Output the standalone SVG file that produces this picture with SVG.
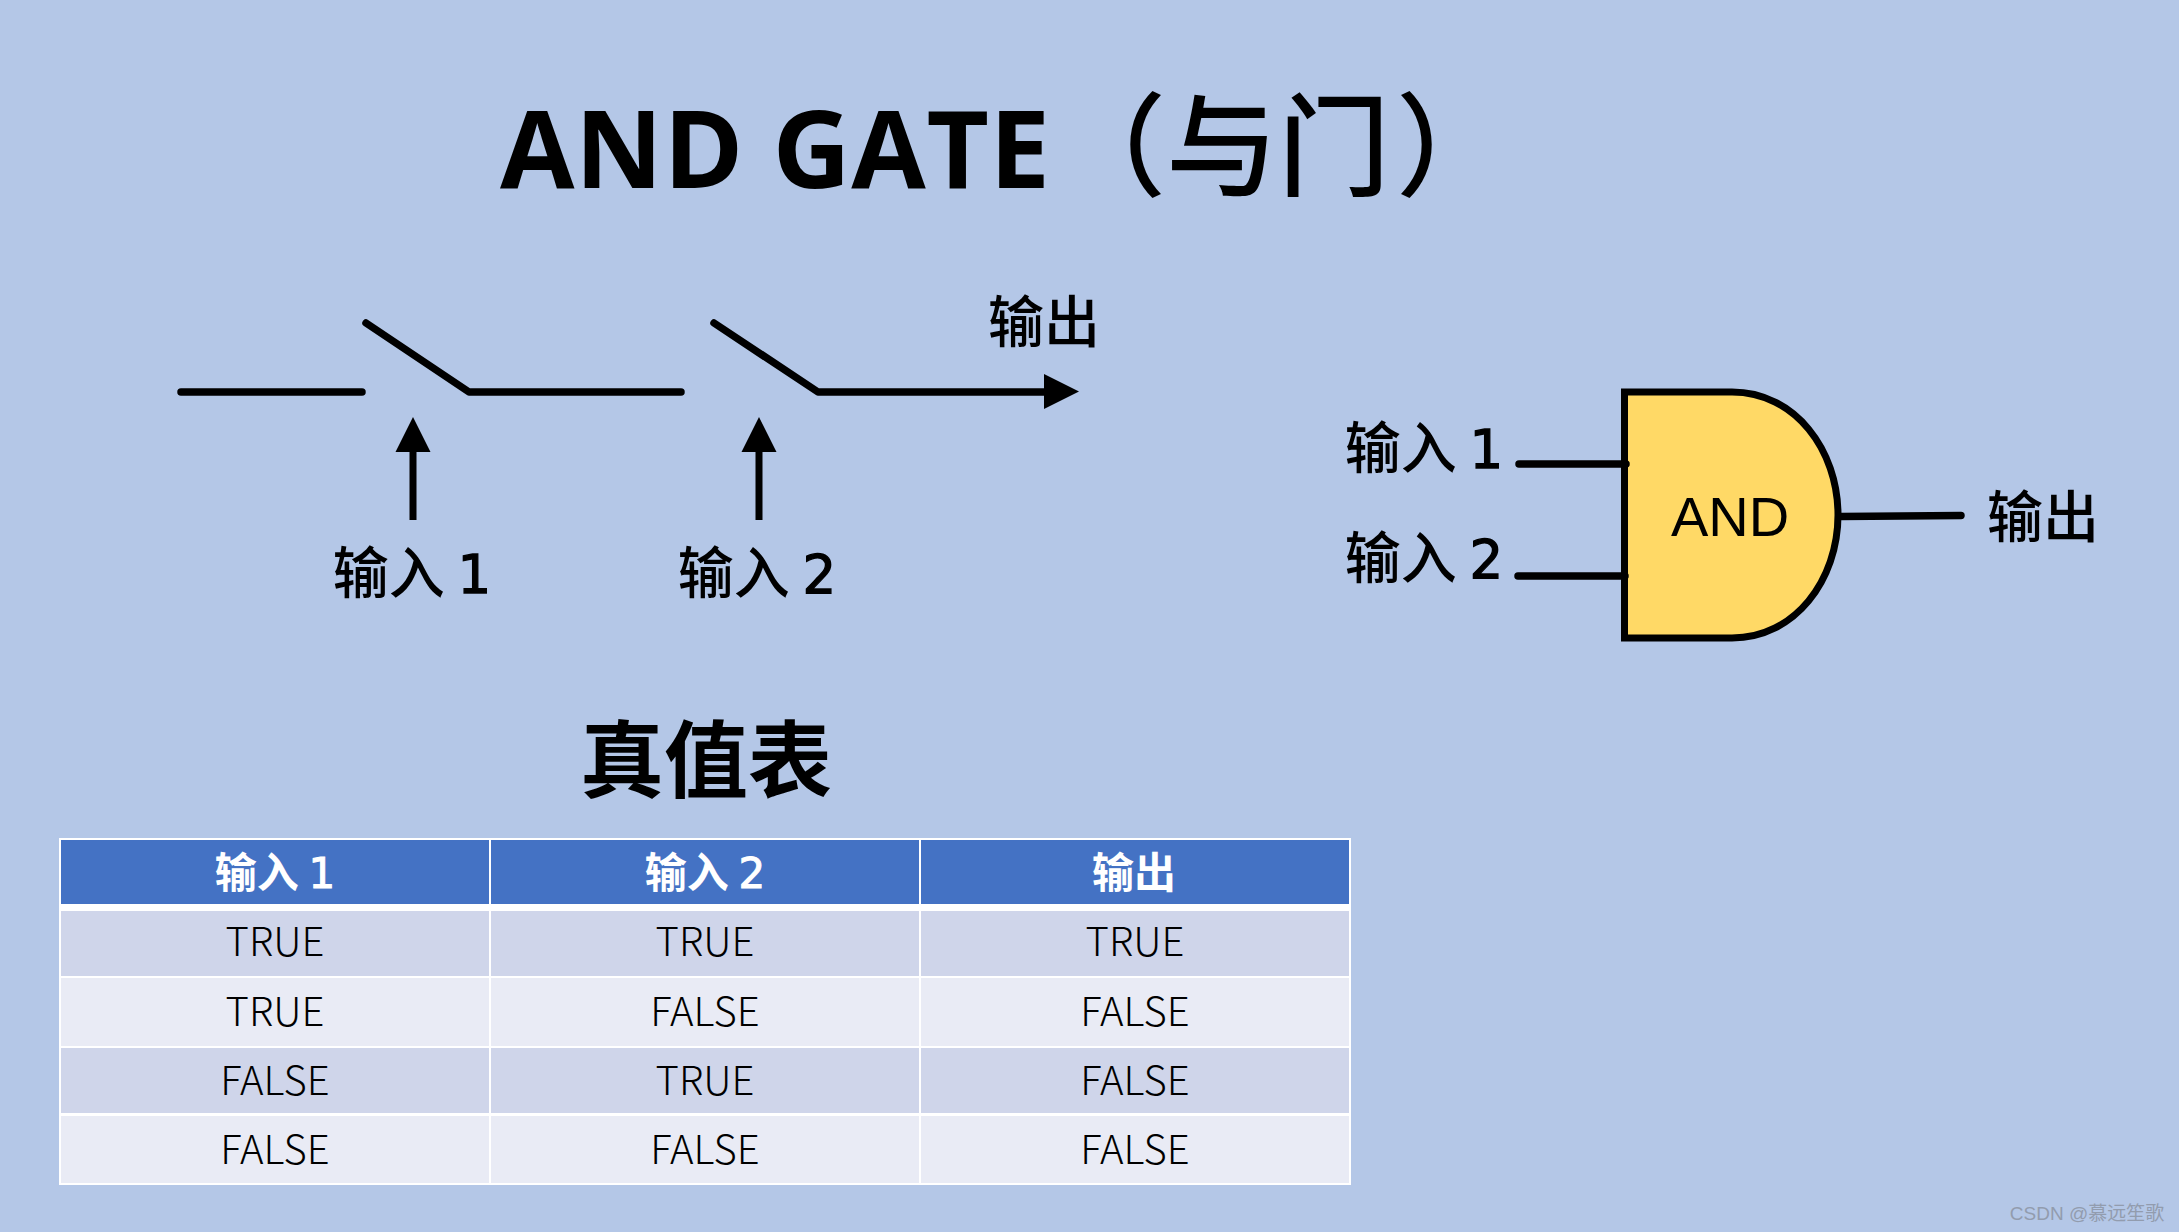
<svg xmlns="http://www.w3.org/2000/svg" width="2179" height="1232" viewBox="0 0 2179 1232">
<defs>
<style>
text{font-family:"Noto Sans CJK SC","Noto Sans",sans-serif;fill:#000;text-anchor:middle}
.l{font-size:56px;font-weight:500}
.h{font-size:42px;font-weight:700;fill:#fff}
.c{font-size:40px;font-weight:300}
.d{font-family:"DejaVu Sans",sans-serif;font-weight:400}
.l .d{font-size:53px;stroke:#000;stroke-width:1.300}
.h .d{font-size:42px;stroke:#fff;stroke-width:1}
.w{fill:none;stroke:#000;stroke-width:7.500;stroke-linecap:round;stroke-linejoin:round}
.s{fill:none;stroke:#000;stroke-width:7}
.a{fill:#000;stroke:none}
.r1{fill:#CFD5EA}.r2{fill:#E9EBF5}.hd{fill:#4472C4}
</style>
</defs>
<rect width="2179" height="1232" fill="#B4C7E7"/>
<g id="title"><text x="775" y="188" font-size="108" font-weight="700" textLength="550" lengthAdjust="spacing" style="font-family:'Open Sans','Noto Sans',sans-serif">AND GATE</text>
<text font-size="112" font-weight="500" y="188"><tspan x="1110">（</tspan><tspan x="1222">与</tspan><tspan x="1334">门</tspan><tspan x="1452">）</tspan></text></g>
<g id="switch-labels">
<text class="l" x="412" y="593">输入 <tspan class="d">1</tspan></text>
<text class="l" x="757" y="593">输入 <tspan class="d">2</tspan></text>
<text class="l" x="1044" y="342">输出</text>
</g>
<g id="and-gate">
<path d="M1624.500 392H1732C1795 392 1838 450 1838 515C1838 580 1795 638 1732 638H1624.500Z" fill="#FFD966" stroke="#000" stroke-width="7"/>
<text x="1730" y="536" font-size="56" font-weight="400" style="font-family:'Liberation Sans',sans-serif">AND</text>
</g>
<g id="connectors">
<path class="w" d="M181 392H362M366 323L469 392H681M714 323L818 392H1046"/>
<path class="a" d="M1044 374L1079 391.500L1044 409Z"/>
<path class="s" d="M413 520V450M759 520V450"/>
<path class="a" d="M413 417L430.500 452H395.500ZM759 417L776.500 452H741.500Z"/>
<path class="w" d="M1519 464H1626M1518 576H1625M1841 516.500L1961 515.500"/>
</g>
<g id="gate-labels">
<text class="l" x="1424" y="468">输入 <tspan class="d">1</tspan></text>
<text class="l" x="1424" y="578">输入 <tspan class="d">2</tspan></text>
<text class="l" x="2043" y="537">输出</text>
</g>
<g id="table-title"><text x="706" y="791" font-size="84" font-weight="700">真值表</text></g>
<g id="truth-table">
<rect x="59" y="838" width="1292" height="347" fill="#fff"/>
<rect class="hd" x="61" y="840" width="428" height="64"/><rect class="hd" x="491" y="840" width="428" height="64"/><rect class="hd" x="921" y="840" width="428" height="64"/>
<rect class="r1" x="61" y="911" width="428" height="65"/><rect class="r1" x="491" y="911" width="428" height="65"/><rect class="r1" x="921" y="911" width="428" height="65"/>
<rect class="r2" x="61" y="978" width="428" height="68"/><rect class="r2" x="491" y="978" width="428" height="68"/><rect class="r2" x="921" y="978" width="428" height="68"/>
<rect class="r1" x="61" y="1048" width="428" height="65"/><rect class="r1" x="491" y="1048" width="428" height="65"/><rect class="r1" x="921" y="1048" width="428" height="65"/>
<rect class="r2" x="61" y="1116" width="428" height="67"/><rect class="r2" x="491" y="1116" width="428" height="67"/><rect class="r2" x="921" y="1116" width="428" height="67"/>
<text class="h" x="275" y="888">输入 <tspan class="d">1</tspan></text><text class="h" x="705" y="888">输入 <tspan class="d">2</tspan></text><text class="h" x="1134" y="888">输出</text>
<text class="c" x="275" y="956">TRUE</text><text class="c" x="705" y="956">TRUE</text><text class="c" x="1135" y="956">TRUE</text>
<text class="c" x="275" y="1026">TRUE</text><text class="c" x="705" y="1026">FALSE</text><text class="c" x="1135" y="1026">FALSE</text>
<text class="c" x="275" y="1095">FALSE</text><text class="c" x="705" y="1095">TRUE</text><text class="c" x="1135" y="1095">FALSE</text>
<text class="c" x="275" y="1164">FALSE</text><text class="c" x="705" y="1164">FALSE</text><text class="c" x="1135" y="1164">FALSE</text>
</g>
<g id="watermark"><text x="2087" y="1220" font-size="19" style="fill:#929cae;font-family:'Liberation Sans','Noto Sans CJK SC',sans-serif">CSDN @慕远笙歌</text></g>
</svg>
